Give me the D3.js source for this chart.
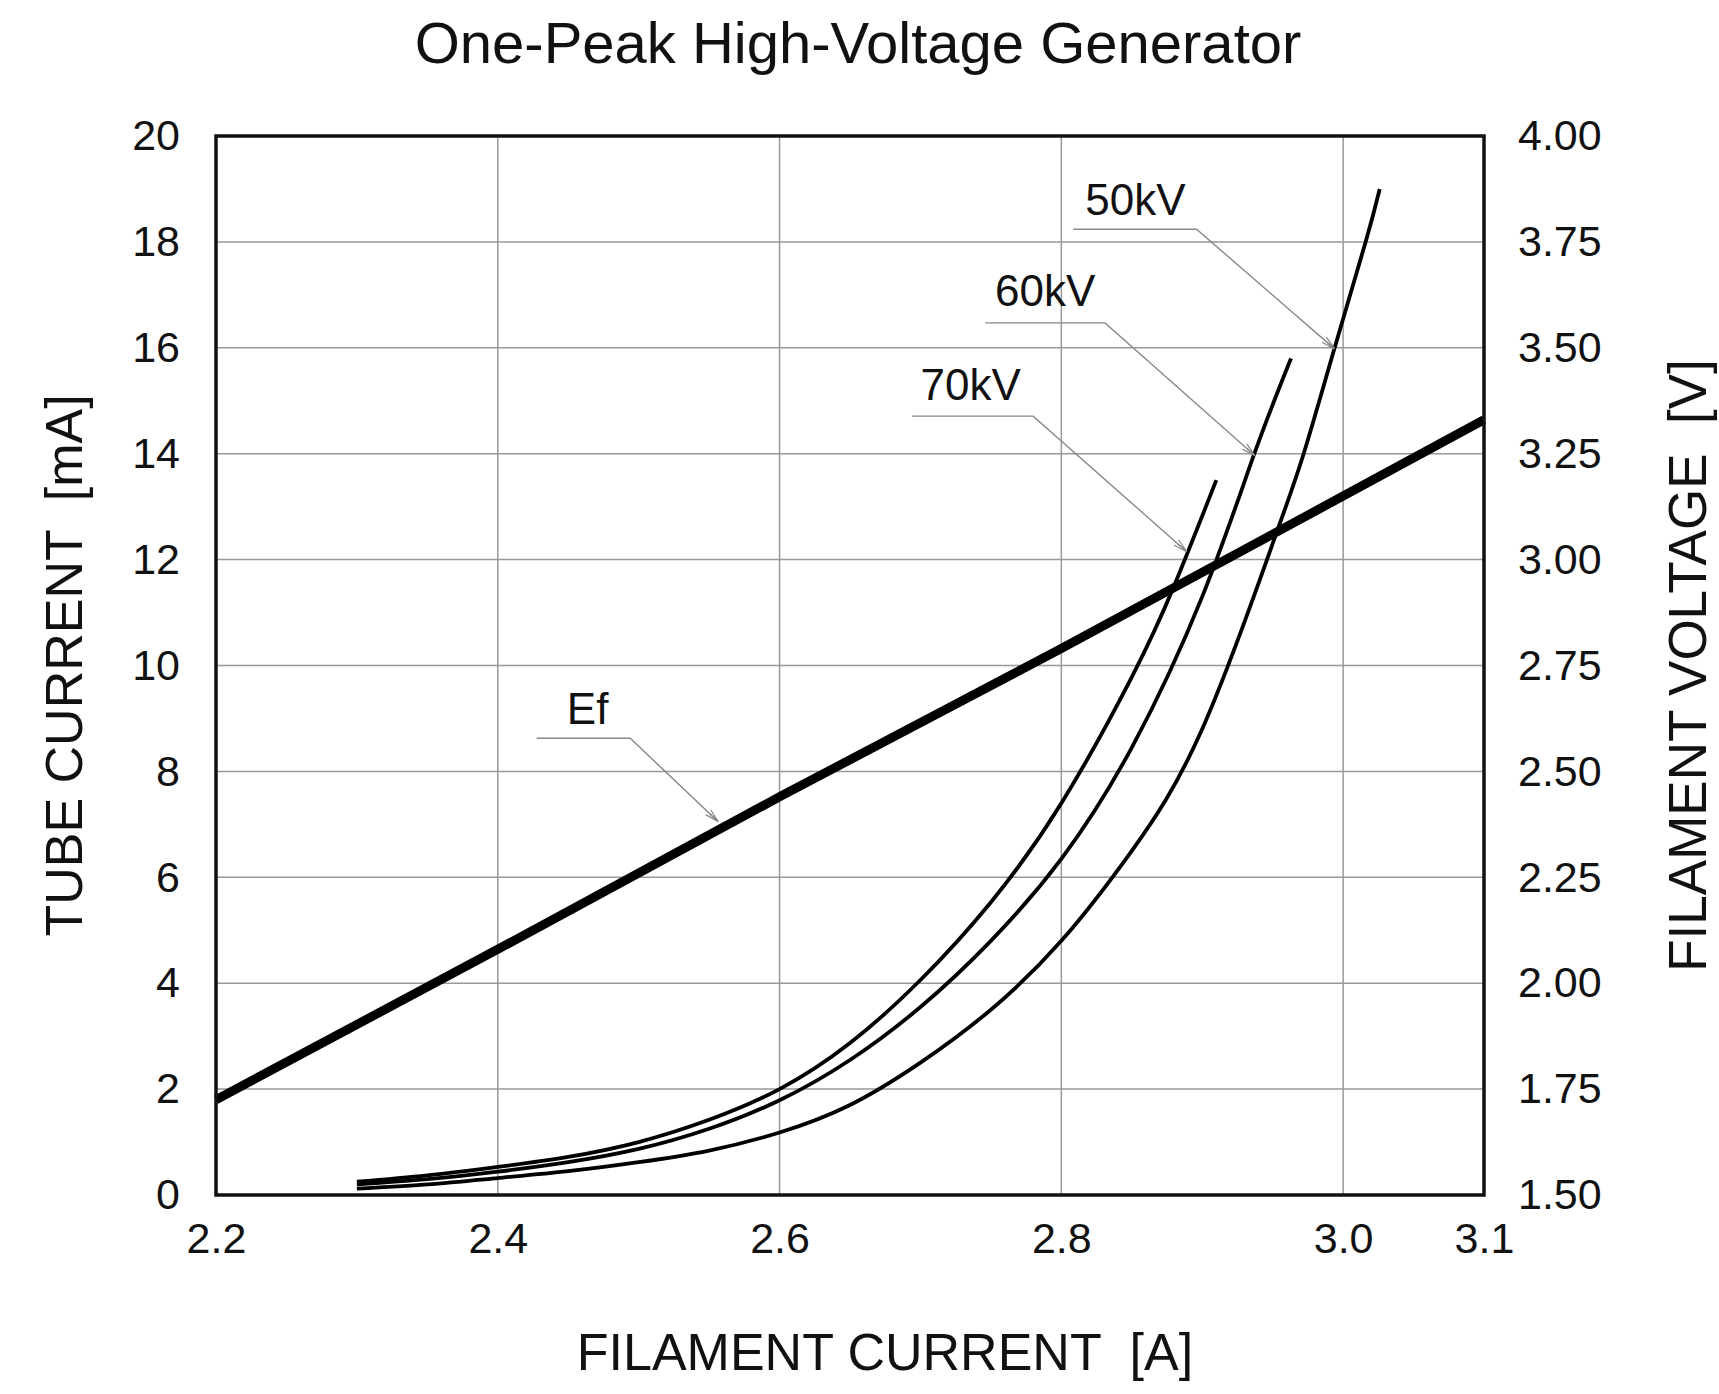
<!DOCTYPE html>
<html>
<head>
<meta charset="utf-8">
<script src="https://cdn.jsdelivr.net/npm/d3@7"></script>
<style>
  html, body { margin: 0; padding: 0; background: #fff; }
  svg { display: block; font-family: "Liberation Sans", Arial, sans-serif; }
</style>
</head>
<body>
<svg id="chart" width="1719" height="1394"></svg>
<script>
// ---------- data ----------
const xTicks = [2.2, 2.4, 2.6, 2.8, 3.0, 3.1];
const xGrid = [2.4, 2.6, 2.8, 3.0];
const yLeftTicks = [0, 2, 4, 6, 8, 10, 12, 14, 16, 18, 20];
const yRightTicks = [1.5, 1.75, 2.0, 2.25, 2.5, 2.75, 3.0, 3.25, 3.5, 3.75, 4.0];

// Tube current [mA] vs filament current [A]
const kv50 = [[2.30,0.12],[2.35,0.20],[2.40,0.32],[2.45,0.45],[2.50,0.62],[2.55,0.84],[2.60,1.18],[2.65,1.70],[2.70,2.50],[2.75,3.50],[2.80,4.80],[2.85,6.50],[2.90,8.80],[2.95,12.3],[2.972,14.0],[2.994,16.0],[3.016,18.0],[3.026,19.0]];
const kv60 = [[2.30,0.20],[2.35,0.30],[2.40,0.44],[2.45,0.62],[2.50,0.87],[2.55,1.25],[2.60,1.79],[2.65,2.55],[2.70,3.55],[2.75,4.80],[2.80,6.35],[2.85,8.45],[2.90,11.3],[2.937,14.0],[2.963,15.8]];
const kv70 = [[2.30,0.25],[2.35,0.37],[2.40,0.53],[2.45,0.72],[2.50,1.00],[2.55,1.42],[2.60,2.00],[2.65,2.87],[2.70,4.06],[2.75,5.53],[2.80,7.40],[2.85,9.78],[2.88,11.5],[2.91,13.5]];
// Filament voltage [V] vs filament current [A]
const ef = [[2.2,1.725],[2.4,2.08],[2.6,2.44],[2.8,2.79],[3.0,3.15],[3.1,3.33]];

// callouts: label, label anchor [A, mA], leader polyline [A, mA]
const callouts = [
  {label: "50kV", at: [2.817, 18.51], leader: [[2.8085,18.24],[2.896,18.24],[2.994,15.98]]},
  {label: "60kV", at: [2.753, 16.78], leader: [[2.746,16.47],[2.831,16.47],[2.9375,13.96]]},
  {label: "70kV", at: [2.700, 15.01], leader: [[2.694,14.71],[2.780,14.71],[2.889,12.15]]},
  {label: "Ef",   at: [2.449, 8.895], leader: [[2.4276,8.625],[2.494,8.625],[2.5565,7.05]]}
];

// ---------- layout ----------
const m = {left: 216, right: 1484, top: 136, bottom: 1195};
const svg = d3.select("#chart");

const x = d3.scaleLinear().domain([2.2, 3.1]).range([m.left, m.right]);
const yL = d3.scaleLinear().domain([0, 20]).range([m.bottom, m.top]);
const yR = d3.scaleLinear().domain([1.5, 4.0]).range([m.bottom, m.top]);

// defs: arrow marker
svg.append("defs").append("marker")
  .attr("id", "arr").attr("viewBox", "0 -5 14 10")
  .attr("refX", 14).attr("refY", 0)
  .attr("markerWidth", 14).attr("markerHeight", 10)
  .attr("markerUnits", "userSpaceOnUse")
  .attr("orient", "auto")
  .append("path").attr("d", "M0,-3.5L14,0L0,3.5M2,0L14,0")
  .attr("fill", "none").attr("stroke", "#888").attr("stroke-width", 1.2);

// gridlines
const grid = svg.append("g");
grid.selectAll("line.v").data(xGrid).join("line")
  .attr("x1", d => x(d)).attr("x2", d => x(d))
  .attr("y1", m.top).attr("y2", m.bottom)
  .attr("stroke", "#999").attr("stroke-width", 1.5);
grid.selectAll("line.h").data(yLeftTicks.slice(1, -1)).join("line")
  .attr("x1", m.left).attr("x2", m.right)
  .attr("y1", d => yL(d)).attr("y2", d => yL(d))
  .attr("stroke", "#999").attr("stroke-width", 1.5);

// axes (labels only)
const tickFont = 43;
const gx = svg.append("g").attr("transform", `translate(0,${m.bottom})`)
  .call(d3.axisBottom(x).tickValues(xTicks).tickSize(0).tickPadding(27).tickFormat(d3.format(".1f")));
const gyl = svg.append("g").attr("transform", `translate(${m.left},0)`)
  .call(d3.axisLeft(yL).tickValues(yLeftTicks).tickSize(0).tickPadding(36).tickFormat(d3.format("d")));
const gyr = svg.append("g").attr("transform", `translate(${m.right},0)`)
  .call(d3.axisRight(yR).tickValues(yRightTicks).tickSize(0).tickPadding(34).tickFormat(d3.format(".2f")));
[gx, gyl, gyr].forEach(g => {
  g.select(".domain").remove();
  g.selectAll("text").attr("font-size", tickFont).attr("fill", "#111")
    .attr("font-family", "'Liberation Sans', Arial, sans-serif");
});

// curves
const lineL = d3.line().x(d => x(d[0])).y(d => yL(d[1])).curve(d3.curveNatural);
const lineR = d3.line().x(d => x(d[0])).y(d => yR(d[1]));
const plot = svg.append("g");
[kv50, kv60, kv70].forEach(s => {
  plot.append("path").attr("d", lineL(s))
    .attr("fill", "none").attr("stroke", "#000").attr("stroke-width", 3.8)
    .attr("stroke-linecap", "butt");
});
plot.append("path").attr("d", lineR(ef))
  .attr("fill", "none").attr("stroke", "#000").attr("stroke-width", 9);

// frame
svg.append("rect")
  .attr("x", m.left).attr("y", m.top)
  .attr("width", m.right - m.left).attr("height", m.bottom - m.top)
  .attr("fill", "none").attr("stroke", "#111").attr("stroke-width", 3.5);

// callouts
const lineC = d3.line().x(d => x(d[0])).y(d => yL(d[1]));
const cg = svg.append("g");
callouts.forEach(c => {
  cg.append("path").attr("d", lineC(c.leader))
    .attr("fill", "none").attr("stroke", "#888").attr("stroke-width", 1.4)
    .attr("marker-end", "url(#arr)");
  cg.append("text").attr("x", x(c.at[0])).attr("y", yL(c.at[1]))
    .attr("font-size", 44).attr("fill", "#111").text(c.label);
});

// titles
svg.append("text").attr("x", 858).attr("y", 63)
  .attr("text-anchor", "middle").attr("font-size", 58).attr("fill", "#111")
  .text("One-Peak High-Voltage Generator");
svg.append("text").attr("x", (m.left + m.right) / 2 + 35).attr("y", 1370)
  .attr("text-anchor", "middle").attr("font-size", 52).attr("fill", "#111")
  .attr("xml:space", "preserve")
  .text("FILAMENT CURRENT  [A]");
svg.append("text")
  .attr("transform", `translate(82,${(m.top + m.bottom) / 2}) rotate(-90)`)
  .attr("text-anchor", "middle").attr("font-size", 52).attr("fill", "#111")
  .attr("xml:space", "preserve")
  .text("TUBE CURRENT  [mA]");
svg.append("text")
  .attr("transform", `translate(1706,${(m.top + m.bottom) / 2}) rotate(-90)`)
  .attr("text-anchor", "middle").attr("font-size", 53).attr("fill", "#111")
  .attr("xml:space", "preserve")
  .text("FILAMENT VOLTAGE  [V]");
</script>
</body>
</html>
